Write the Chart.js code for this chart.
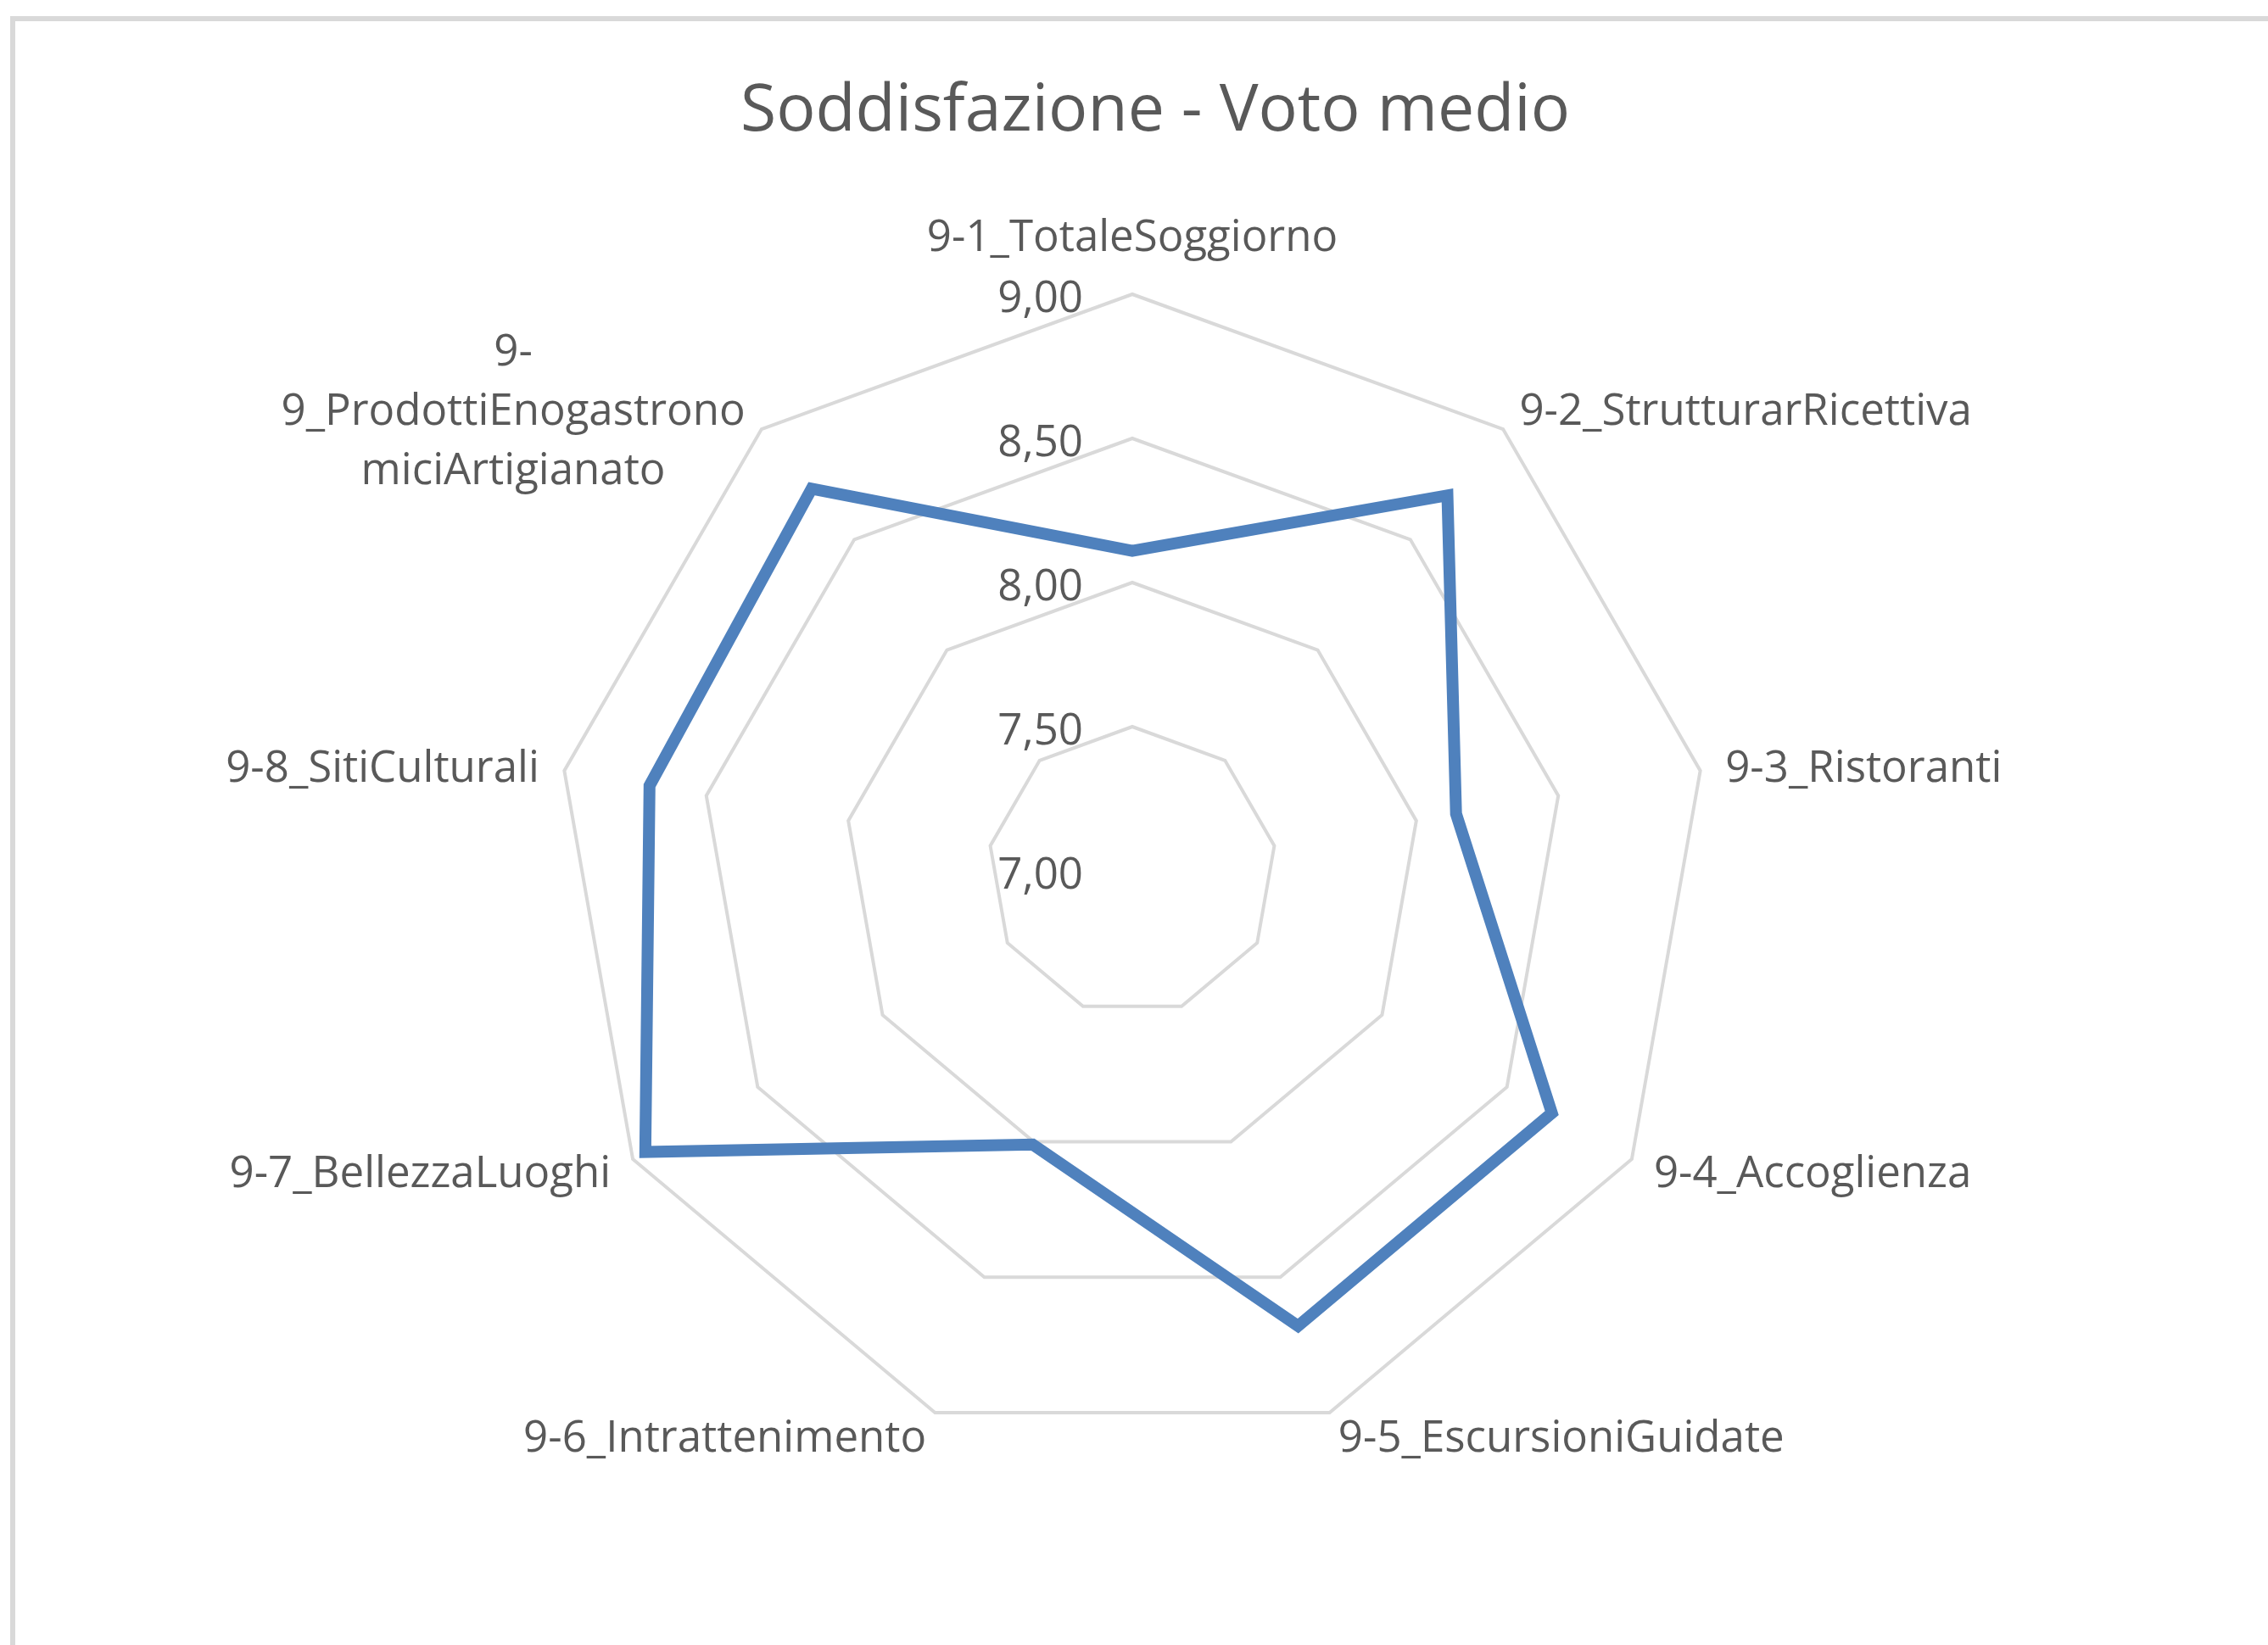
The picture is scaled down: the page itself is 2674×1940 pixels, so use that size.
<!DOCTYPE html>
<html lang="it">
<head>
<meta charset="utf-8">
<title>Soddisfazione - Voto medio</title>
<script src="https://cdn.jsdelivr.net/npm/chart.js@4/dist/chart.umd.min.js"></script>
<style>
  html, body { margin: 0; padding: 0; background: #fff; }
  #radar { display: block; width: 2674px; height: 1940px; }
</style>
</head>
<body>
<canvas id="radar" width="2674" height="1940"></canvas>
<script>
// Dati (voto medio 7-9).
const titolo = 'Soddisfazione - Voto medio';
const categorie = [
  '9-1_TotaleSoggiorno',
  '9-2_StrutturarRicettiva',
  '9-3_Ristoranti',
  '9-4_Accoglienza',
  '9-5_EscursioniGuidate',
  '9-6_Intrattenimento',
  '9-7_BellezzaLuoghi',
  '9-8_SitiCulturali',
  ['9-', '9_ProdottiEnogastrono', 'miciArtigianato'],
];
const votoMedio = [8.11, 8.70, 8.14, 8.68, 8.68, 8.01, 8.95, 8.70, 8.73];
const scalaMin = 7, scalaMax = 9, passo = 0.5;

const FONT = '"Open Sans", "Noto Sans", sans-serif';
const GRIGIO_TESTO = '#595959';
const GRIGIO_LINEE = '#d9d9d9';

const fmt = (v) => v.toFixed(2).replace('.', ',');

// Etichette, tick, titolo e cornice disegnati nello stile Excel.
const stileExcel = {
  id: 'stileExcel',
  beforeDraw(chart) {
    const ctx = chart.ctx;
    ctx.save();
    ctx.fillStyle = GRIGIO_LINEE;
    ctx.fillRect(12, 19, chart.width, 6);
    ctx.fillRect(12, 19, 6, chart.height);
    ctx.restore();
  },
  afterDraw(chart) {
    const ctx = chart.ctx, r = chart.scales.r;
    ctx.save();
    ctx.fillStyle = GRIGIO_TESTO;

    // titolo
    ctx.font = '77px ' + FONT;
    ctx.textAlign = 'center';
    ctx.textBaseline = 'alphabetic';
    ctx.fillText(titolo, 1362, 154);

    // etichette dei tick, a sinistra dell'asse verticale
    ctx.font = '51px ' + FONT;
    ctx.textAlign = 'right';
    r.ticks.forEach((t) => {
      const y = r.yCenter - r.getDistanceFromCenterForValue(t.value);
      ctx.fillText(fmt(t.value), r.xCenter - 58, y + 21);
    });

    // etichette delle categorie
    categorie.forEach((lab, i) => {
      const p = r.getPointPosition(i, r.drawingArea + 30);
      const s = Math.sin(r.getIndexAngle(i));
      const righe = Array.isArray(lab) ? lab : [lab];
      if (Math.abs(s) < 0.05) {
        ctx.textAlign = 'center';
        ctx.fillText(righe[0], p.x, p.y - 21);
        return;
      }
      const largh = Math.max(...righe.map((l) => ctx.measureText(l).width));
      const cx = s > 0 ? p.x + largh / 2 : p.x - largh / 2;
      ctx.textAlign = 'center';
      righe.forEach((l, k) => {
        const y = p.y + 18 + (k - (righe.length - 1) / 2) * 70;
        ctx.fillText(l, cx, y);
      });
    });
    ctx.restore();
  },
};

new Chart(document.getElementById('radar').getContext('2d'), {
  type: 'radar',
  data: {
    labels: categorie,
    datasets: [{
      label: 'Voto medio',
      data: votoMedio,
      borderColor: '#4f81bd',
      backgroundColor: 'transparent',
      borderWidth: 14,
      borderJoinStyle: 'miter',
      pointRadius: 0,
      pointHoverRadius: 0,
      fill: false,
      tension: 0,
    }],
  },
  options: {
    responsive: false,
    devicePixelRatio: 1,
    animation: false,
    layout: { padding: { left: 655, right: 659, top: 347, bottom: 233 } },
    plugins: { legend: { display: false }, tooltip: { enabled: false }, title: { display: false } },
    scales: {
      r: {
        min: scalaMin, max: scalaMax,
        ticks: { display: false, stepSize: passo },
        pointLabels: { display: false },
        angleLines: { display: false },
        grid: { color: GRIGIO_LINEE, lineWidth: 4, circular: false },
      },
    },
  },
  plugins: [stileExcel],
});
</script>
</body>
</html>
